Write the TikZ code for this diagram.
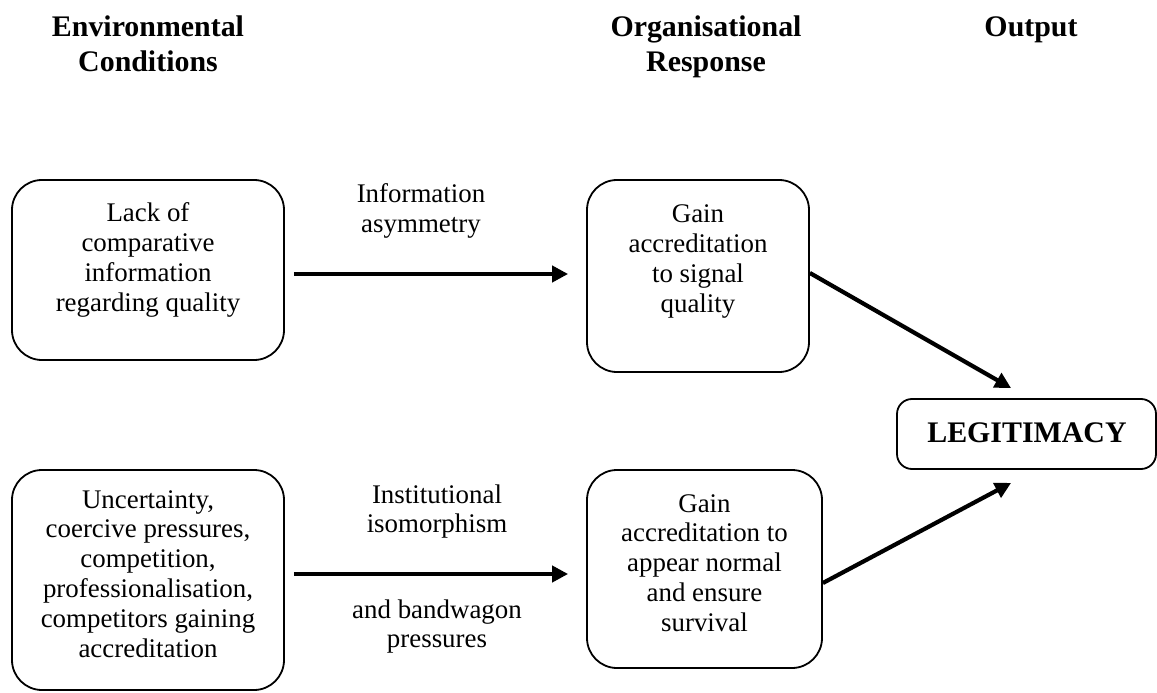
\documentclass[tikz,border=0pt]{standalone}
\usepackage{fontspec}
\setmainfont{Liberation Serif}
\usetikzlibrary{arrows.meta,calc}
\begin{document}
\begin{tikzpicture}[x=1bp,y=-1bp,
  box/.style={draw, line width=1.8bp, rounded corners=30bp, inner sep=0pt},
  lbox/.style={draw, line width=1.8bp, rounded corners=15bp, inner sep=0pt},
  body/.style={anchor=base, inner sep=0pt, font=\fontsize{27}{30}\selectfont},
  head/.style={anchor=base, inner sep=0pt, font=\bfseries\fontsize{30}{35}\selectfont},
  arr/.style={line width=4.2bp, -{Triangle[length=16bp,width=16bp]}}]
\useasboundingbox (0,0) rectangle (1157,693);
% headers
\node[head] (h1) at (148,37) {\begin{tabular}[t]{@{}c@{}}Environmental\\Conditions\end{tabular}};
\node[head] (h2) at (706,37) {\begin{tabular}[t]{@{}c@{}}Organisational\\Response\end{tabular}};
\node[head] (h3) at (1031,37) {Output};
% boxes
\node[box, minimum width=272bp, minimum height=180bp] (A) at (148,270) {};
\node[box, minimum width=222bp, minimum height=192bp] (B) at (698,276) {};
\node[box, minimum width=272bp, minimum height=220bp] (C) at (148,580) {};
\node[box, minimum width=235bp, minimum height=198bp] (D) at (704.5,569) {};
\node[lbox, minimum width=259bp, minimum height=70bp] (L) at (1026.5,434) {};
% box texts
\node[body] (tA) at (148,222) {\begin{tabular}[t]{@{}c@{}}Lack of\\comparative\\information\\regarding quality\end{tabular}};
\node[body] (tB) at (698,223) {\begin{tabular}[t]{@{}c@{}}Gain\\accreditation\\to signal\\quality\end{tabular}};
\node[body] (tC) at (148,508) {\begin{tabular}[t]{@{}c@{}}Uncertainty,\\coercive pressures,\\competition,\\professionalisation,\\competitors gaining\\accreditation\end{tabular}};
\node[body] (tD) at (704.5,512) {\begin{tabular}[t]{@{}c@{}}Gain\\accreditation to\\appear normal\\and ensure\\survival\end{tabular}};
\node[anchor=base, inner sep=0pt, font=\bfseries\fontsize{30}{32}\selectfont] (tL) at (1027,442) {LEGITIMACY};
% arrow labels
\node[body] (l1) at (421,203) {\begin{tabular}[t]{@{}c@{}}Information\\asymmetry\end{tabular}};
\node[body] (l2) at (437,503) {\begin{tabular}[t]{@{}c@{}}Institutional\\isomorphism\end{tabular}};
\node[body] (l3) at (437,618) {\begin{tabular}[t]{@{}c@{}}and bandwagon\\pressures\end{tabular}};
% arrows
\draw[arr] ($(A.east)+(9,4)$) -- ($(B.west)+(-18,-2)$);
\draw[arr] ($(C.east)+(9,-6)$) -- ($(D.west)+(-18,5)$);
\draw[arr] ($(B.east)+(0,-3)$) -- ($(L.north west)+(115,-10)$);
\draw[arr] ($(D.east)+(0,14)$) -- ($(L.south west)+(115,13)$);
\end{tikzpicture}
\end{document}
